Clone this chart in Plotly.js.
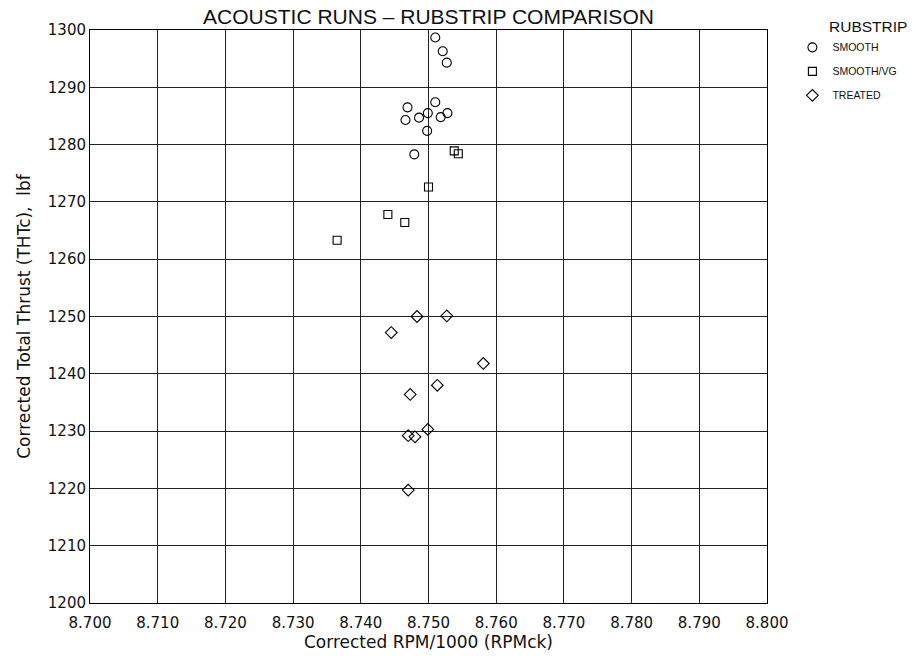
<!DOCTYPE html>
<html>
<head>
<meta charset="utf-8">
<script src="https://cdn.plot.ly/plotly-3.0.1.min.js"></script>
<style>
  html, body { margin: 0; padding: 0; background: #ffffff; }
  #chart { width: 914px; height: 656px; }
</style>
</head>
<body>
<div id="chart"></div>
<script>
// Corrected RPM/1000 (RPMck) and Corrected Total Thrust (THTc, lbf)
const smoothRPM = [8.7510, 8.7521, 8.7527, 8.7510, 8.7469, 8.7499, 8.7528, 8.7486, 8.7466, 8.7518, 8.7498, 8.7479];
const smoothTHT = [1298.7, 1296.3, 1294.3, 1287.4, 1286.5, 1285.5, 1285.5, 1284.7, 1284.3, 1284.8, 1282.4, 1278.3];

const vgRPM = [8.7538, 8.7544, 8.7500, 8.7440, 8.7465, 8.7365];
const vgTHT = [1278.9, 1278.4, 1272.6, 1267.8, 1266.4, 1263.3];

const treatedRPM = [8.7483, 8.7527, 8.7445, 8.7581, 8.7513, 8.7473, 8.7499, 8.7470, 8.7480, 8.7470];
const treatedTHT = [1250.0, 1250.1, 1247.2, 1241.8, 1238.0, 1236.4, 1230.3, 1229.2, 1229.0, 1219.7];

const seriesNames = ["SMOOTH", "SMOOTH/VG", "TREATED"];
const xTickVals = [8.700, 8.710, 8.720, 8.730, 8.740, 8.750, 8.760, 8.770, 8.780, 8.790, 8.800];
const xTickText = ["8.700", "8.710", "8.720", "8.730", "8.740", "8.750", "8.760", "8.770", "8.780", "8.790", "8.800"];
const yTickVals = [1200, 1210, 1220, 1230, 1240, 1250, 1260, 1270, 1280, 1290, 1300];

const mk = (sym, size) => ({ symbol: sym, size: size, color: "#000", line: { color: "#000", width: 1.1 } });

const traces = [
  { x: smoothRPM, y: smoothTHT, name: seriesNames[0], mode: "markers", type: "scatter", legendgroup: "a", marker: mk("circle-open", 9) },
  { x: vgRPM, y: vgTHT, name: seriesNames[1], mode: "markers", type: "scatter", legendgroup: "b", marker: mk("square-open", 8) },
  { x: treatedRPM, y: treatedTHT, name: seriesNames[2], mode: "markers", type: "scatter", legendgroup: "c", marker: mk("diamond-open", 9) }
];

const tickFont = { family: "DejaVu Sans, sans-serif", size: 15, color: "#111" };
const titleFont = { family: "DejaVu Sans, sans-serif", size: 17, color: "#111" };

const layout = {
  width: 914, height: 656,
  margin: { l: 90, r: 139, t: 30, b: 53 },
  paper_bgcolor: "#fff", plot_bgcolor: "#fff",
  showlegend: true,
  title: {
    text: "ACOUSTIC RUNS – RUBSTRIP COMPARISON",
    font: { family: "Liberation Sans, Arial, sans-serif", size: 21, color: "#111" },
    xref: "paper", x: 0.5, xanchor: "center",
    yref: "container", y: 1 - 17 / 656, yanchor: "middle"
  },
  xaxis: {
    range: [8.7, 8.8],
    tickvals: xTickVals, ticktext: xTickText,
    showgrid: true, gridcolor: "#222", gridwidth: 1,
    zeroline: false, showline: true, linecolor: "#000", linewidth: 1, mirror: true,
    ticks: "", tickfont: tickFont, ticklabelstandoff: 6,
    title: { text: "Corrected RPM/1000 (RPMck)", font: titleFont, standoff: 4 }
  },
  yaxis: {
    range: [1200, 1300],
    tickvals: yTickVals,
    showgrid: true, gridcolor: "#222", gridwidth: 1,
    zeroline: false, showline: true, linecolor: "#000", linewidth: 1, mirror: true,
    ticks: "", tickfont: tickFont,
    title: { text: "Corrected Total Thrust (THTc),  lbf", font: titleFont, standoff: 12 }
  },
  legend: {
    x: 1.0375, xanchor: "left", y: 0.995, yanchor: "top",
    font: { family: "Liberation Sans, Arial, sans-serif", size: 10.5, color: "#111" },
    tracegroupgap: 5, bgcolor: "rgba(0,0,0,0)", borderwidth: 0
  },
  annotations: [{
    text: "RUBSTRIP", xref: "paper", yref: "paper",
    x: (836 - 90) / 685, y: (603 - 26) / 573, xanchor: "left", yanchor: "middle",
    showarrow: false,
    font: { family: "Liberation Sans, Arial, sans-serif", size: 15.5, color: "#111" }
  }]
};

Plotly.newPlot("chart", traces, layout, { displayModeBar: false, staticPlot: true });
</script>
</body>
</html>
